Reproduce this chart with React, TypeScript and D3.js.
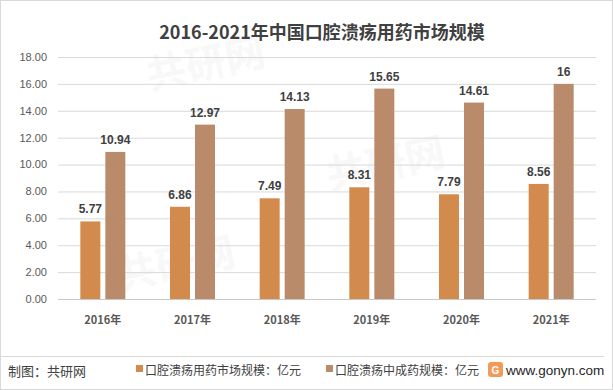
import React from "react";
import * as d3 from "d3";

// values
const years = ["2016年", "2017年", "2018年", "2019年", "2020年", "2021年"];
const marketSize = [5.77, 6.86, 7.49, 8.31, 7.79, 8.56];
const patentSize = [10.94, 12.97, 14.13, 15.65, 14.61, 16];
const marketLabels = ["5.77", "6.86", "7.49", "8.31", "7.79", "8.56"];
const patentLabels = ["10.94", "12.97", "14.13", "15.65", "14.61", "16"];
const yTicks = [0, 2, 4, 6, 8, 10, 12, 14, 16, 18];
const seriesNames = ["口腔溃疡用药市场规模：亿元", "口腔溃疡中成药规模：亿元"];
const colors = ["#D38B4D", "#B98B6A"];

const W = 613;
const H = 390;
const font = "'Liberation Sans', 'Noto Sans CJK SC', sans-serif";
const cjk = "'Noto Sans CJK SC', sans-serif";

export default function App() {
  const x = d3.scaleBand<string>().domain(years).range([58, 596]);
  const y = d3.scaleLinear().domain([0, 18]).range([299, 57]);
  const barW = 20;
  const gap = 5;

  const series = [marketSize, patentSize];
  const labels = [marketLabels, patentLabels];

  return (
    <div style={{ position: "fixed", left: 0, top: 0 }}>
      <svg width={W} height={H} style={{ display: "block", background: "#fff" }}>
        <rect x={0.5} y={0.5} width={W - 1} height={H - 1} fill="#fff" stroke="#d9d9d9" />

        {/* faint watermarks */}
        {[[150, 90], [330, 190], [120, 290]].map(([wx, wy], i) => (
          <text key={i} x={wx} y={wy} transform={`rotate(-12 ${wx} ${wy})`}
            fontFamily={cjk} fontSize={40} fontWeight="bold" fill="#000" opacity={0.025}>
            共研网
          </text>
        ))}

        <text x={322} y={39} textAnchor="middle" fontFamily={cjk} fontSize={18}
          fontWeight="bold" fill="#404040">
          2016-2021年中国口腔溃疡用药市场规模
        </text>

        {yTicks.map((t) => (
          <g key={t}>
            <line x1={58} x2={596} y1={y(t) + 0.5} y2={y(t) + 0.5}
              stroke={t === 0 ? "#c8c8c8" : "#d9d9d9"} strokeWidth={1} />
            <text x={47} y={y(t)} dy="0.35em" textAnchor="end" fontFamily={font}
              fontSize={11} fill="#595959">
              {d3.format(".2f")(t)}
            </text>
          </g>
        ))}

        {years.map((yr, i) => {
          const cx = (x(yr) as number) + x.bandwidth() / 2;
          return (
            <g key={yr}>
              {series.map((s, k) => {
                const bx = cx - gap / 2 - barW + k * (barW + gap);
                return (
                  <g key={k}>
                    <rect x={bx} y={y(s[i])} width={barW} height={y(0) - y(s[i])}
                      fill={colors[k]} />
                    <text x={bx + barW / 2} y={y(s[i]) - 8} textAnchor="middle"
                      fontFamily={font} fontSize={12} fontWeight="bold" fill="#404040">
                      {labels[k][i]}
                    </text>
                  </g>
                );
              })}
              <text x={cx} y={324} textAnchor="middle" fontFamily={cjk} fontSize={11}
                fontWeight="bold" fill="#595959">
                {yr}
              </text>
            </g>
          );
        })}

        <line x1={1} x2={604} y1={356.5} y2={356.5} stroke="#d9d9d9" />
        <text x={8} y={376} fontFamily={cjk} fontSize={13} fill="#404040">制图：共研网</text>

        {seriesNames.map((n, k) => {
          const lx = k === 0 ? 136 : 326;
          return (
            <g key={n}>
              <rect x={lx} y={365} width={7} height={7} fill={colors[k]} />
              <text x={lx + 9} y={375} fontFamily={cjk} fontSize={12} fill="#404040">{n}</text>
            </g>
          );
        })}

        <rect x={488} y={362} width={15} height={15} rx={3} fill="#F08A3C" opacity={0.85} />
        <text x={495.5} y={373.5} textAnchor="middle" fontFamily={font} fontSize={10}
          fontWeight="bold" fill="#fff">G</text>
        <text x={506} y={375} fontFamily={font} fontSize={13.5} fill="#262626">www.gonyn.com</text>
      </svg>
    </div>
  );
}
